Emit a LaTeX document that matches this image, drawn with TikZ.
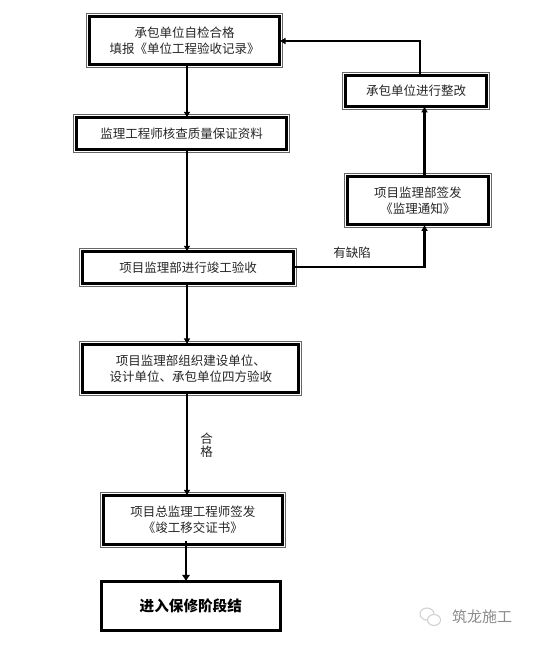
\documentclass[tikz,border=0pt]{standalone}
\usepackage{fontspec}
\setmainfont{Noto Sans CJK SC}
\usetikzlibrary{arrows.meta}
\definecolor{ink}{HTML}{262626}
\tikzset{
  flowbox/.style={rectangle,inner sep=0pt,outer sep=0pt,align=center,text=ink,
    font=\fontsize{12.5}{16}\selectfont,
    preaction={draw=black!60,line width=7.2pt},
    preaction={draw=white,fill=white,line width=5pt},
    draw=black,line width=3pt},
  endbox/.style={rectangle,inner sep=0pt,outer sep=0pt,align=center,text=black,
    font=\fontsize{14.6}{18}\selectfont,draw=black,line width=3pt,fill=white},
  flow/.style={draw=black,line width=2.1pt,-{Latex[length=6pt,width=7pt]}},
  lbl/.style={inner sep=0pt,text=ink,align=center,font=\fontsize{12.5}{13}\selectfont},
}
\begin{document}
\begin{tikzpicture}[x=1pt,y=-1pt]
\useasboundingbox (0,0) rectangle (549,652);
\fill[white] (0,0) rectangle (549,652);
\coordinate (spine) at (187,0);
\coordinate (riseA) at (420,0);
\coordinate (riseB) at (424.5,0);
\coordinate (rowA) at (0,41);
\coordinate (rowB) at (0,267);
\coordinate (lastcol) at (186,0);
\coordinate (lastfrom) at (186,541);
\node[flowbox,minimum width=190pt,minimum height=48pt] (b1) at (184.5,40.5) {承包单位自检合格\\填报《单位工程验收记录》};
\node[flowbox,minimum width=210pt,minimum height=31.4pt] (b2) at (181.7,133.5) {监理工程师核查质量保证资料};
\node[flowbox,minimum width=210.4pt,minimum height=31.4pt] (b3) at (188,267.5) {项目监理部进行竣工验收};
\node[flowbox,minimum width=216pt,minimum height=47.7pt] (b4) at (190.8,368.3) {项目监理部组织建设单位、\\设计单位、承包单位四方验收};
\node[flowbox,minimum width=178.7pt,minimum height=48.4pt] (b5) at (192.8,520) {项目总监理工程师签发\\《竣工移交证书》};
\node[endbox,minimum width=178.7pt,minimum height=48.7pt] (b6) at (190.8,605.8) {\bfseries 进入保修阶段结};
\node[flowbox,minimum width=140.7pt,minimum height=30.7pt] (r1) at (416,91) {承包单位进行整改};
\node[flowbox,minimum width=140.7pt,minimum height=48pt] (r2) at (417.8,200.8) {项目监理部签发\\《监理通知》};
\draw[flow] (b1.south -| spine) -- (b2.north -| spine);
\draw[flow] (b2.south -| spine) -- (b3.north -| spine);
\draw[flow] (b3.south -| spine) -- (b4.north -| spine);
\draw[flow] (b4.south -| spine) -- (b5.north -| spine);
\draw[flow,line width=2.8pt,-{Latex[length=6.5pt,width=8.5pt]}] (lastfrom) -- (b6.north -| lastcol);
\draw[flow] (r2.north -| riseB) -- (r1.south -| riseB);
\draw[flow] (b3.east |- rowB) -- (rowB -| riseB) -- (r2.south -| riseB);
\draw[flow] (r1.north -| riseA) -- (rowA -| riseA) -- (b1.east |- rowA);
\node[lbl] (defect) at (352,253) {有缺陷};
\node[lbl,font=\fontsize{12.5}{13.5}\selectfont] (pass) at (206.5,445) {合\\格};
\node[inner sep=0pt,text=black!45,font=\fontsize{15}{16}\selectfont] (mark) at (482,617) {筑龙施工};
\draw[black!18,fill=white,line width=1.1pt] (427,614) ellipse (7pt and 6pt);
\draw[black!18,fill=white,line width=1.1pt] (434,620) ellipse (6.5pt and 5.5pt);
\end{tikzpicture}
\end{document}
